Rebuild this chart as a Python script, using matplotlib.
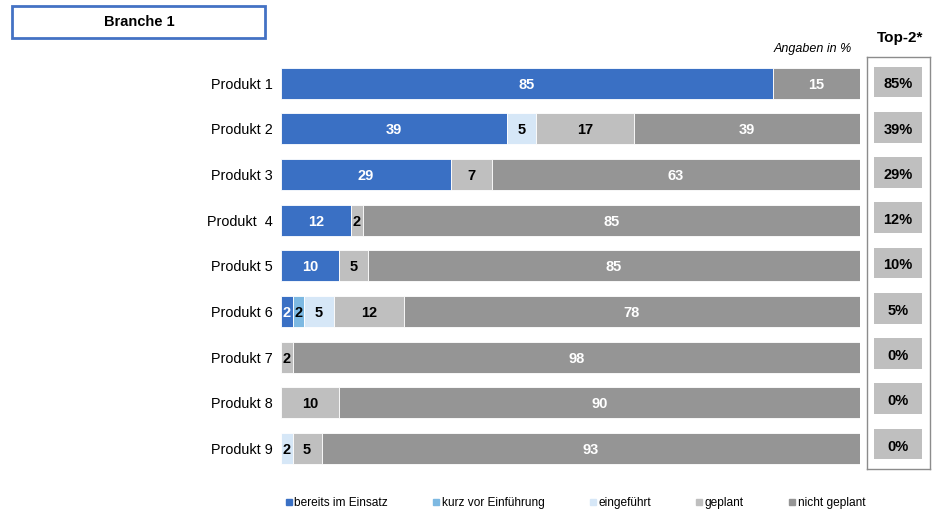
import numpy as np
import matplotlib.pyplot as plt
from matplotlib.patches import Rectangle
from matplotlib.lines import Line2D

plt.rcParams['font.family'] = ['Liberation Sans', 'DejaVu Sans']

# survey data: share per product and status (in %)
produkte = ['Produkt 1', 'Produkt 2', 'Produkt 3', 'Produkt  4', 'Produkt 5',
            'Produkt 6', 'Produkt 7', 'Produkt 8', 'Produkt 9']
status = ['bereits im Einsatz', 'kurz vor Einführung', 'eingeführt', 'geplant', 'nicht geplant']
im_einsatz = [85, 39, 29, 12, 10, 2, 0, 0, 0]
kurz_vor = [0, 0, 0, 0, 0, 2, 0, 0, 0]
eingefuehrt = [0, 5, 0, 0, 0, 5, 0, 0, 2]
geplant = [0, 17, 7, 2, 5, 12, 2, 10, 5]
nicht_geplant = [15, 39, 63, 85, 85, 78, 98, 90, 93]
top2 = ['85%', '39%', '29%', '12%', '10%', '5%', '0%', '0%', '0%']

colors = ['#3A70C4', '#7DB9E2', '#D6E7F7', '#BFBFBF', '#959595']
text_colors = ['white', 'black', 'black', 'black', 'white']

W, H = 932, 512
fig = plt.figure(figsize=(W / 100, H / 100), dpi=100)
fig.patch.set_facecolor('white')

ax = fig.add_axes([281 / W, 1 - 471.3 / H, 579 / W, 411.1 / H])
y = np.arange(len(produkte))
series = np.array([im_einsatz, kurz_vor, eingefuehrt, geplant, nicht_geplant], dtype=float)
# rounded values don't always add up to 100 -> stretch each row to full width
scale = 100 / series.sum(axis=0)
left = np.zeros(len(produkte))
for vals, col, tcol in zip(series, colors, text_colors):
    w = vals * scale
    ax.barh(y, w, left=left, height=0.68, color=col, edgecolor='white', linewidth=0.6)
    for yi, (l, wi, v) in enumerate(zip(left, w, vals)):
        if v > 0:
            ax.text(l + wi / 2, yi, f'{int(v)}', ha='center', va='center_baseline',
                    color=tcol, fontsize=10.5, fontweight='bold')
    left += w

ax.set_xlim(0, 100)
ax.set_ylim(len(produkte) - 0.5, -0.5)
ax.set_yticks(y)
ax.set_yticklabels(produkte, fontsize=10.4)
ax.tick_params(axis='y', length=0, pad=6)
ax.set_xticks([])
for s in ax.spines.values():
    s.set_visible(False)

# Top-2 column
ax2 = fig.add_axes([867 / W, 1 - 469 / H, 63 / W, 412 / H])
ax2.set_xlim(0, 1)
ax2.set_ylim(len(produkte) - 0.5 + 0.03, -0.5 - 0.07)
for yi, t in enumerate(top2):
    ax2.add_patch(Rectangle((0.11, yi - 0.36), 0.76, 0.68, facecolor='#BFBFBF', edgecolor='none'))
    ax2.text(0.49, yi, t, ha='center', va='center_baseline', fontsize=10.5, fontweight='bold')
ax2.set_xticks([])
ax2.set_yticks([])
for s in ax2.spines.values():
    s.set_color('#8C8C8C')
    s.set_linewidth(1.0)

fig.text(900 / W, 1 - 38 / H, 'Top-2*', ha='center', va='center', fontsize=11, fontweight='bold')
fig.text(852 / W, 1 - 49 / H, 'Angaben in %', ha='right', va='center', fontsize=9, style='italic')

# header box
fig.patches.append(Rectangle((12 / W, 1 - 38 / H), 253 / W, 32 / H, transform=fig.transFigure,
                             facecolor='white', edgecolor='#4472C4', linewidth=2))
fig.text(139 / W, 1 - 22 / H, 'Branche 1', ha='center', va='center', fontsize=10.5, fontweight='bold')

handles = [Line2D([], [], marker='s', linestyle='none', markersize=5,
                  markerfacecolor=c, markeredgecolor=c) for c in colors]
fig.legend(handles, status, loc='center left', bbox_to_anchor=(286 / W, 1 - 503 / H),
           ncol=5, frameon=False, fontsize=8.6, handlelength=0.5, handletextpad=0.2,
           columnspacing=3.8, borderpad=0, borderaxespad=0)

fig.savefig('out.png', dpi=100)
